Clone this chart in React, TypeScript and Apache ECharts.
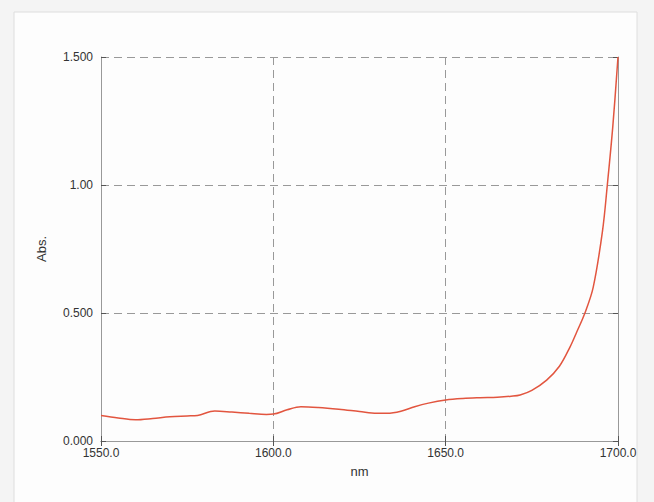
import React, { useEffect, useRef } from "react";
import * as echarts from "echarts";

const wavelengths = [
  1550, 1555, 1560, 1565, 1570, 1575, 1578, 1583, 1588, 1593, 1598, 1600,
  1604, 1608, 1613, 1619, 1625, 1630, 1633, 1637, 1641, 1645, 1650, 1655,
  1660, 1665, 1669, 1671.6, 1675, 1679.3, 1683, 1686.1, 1688, 1690.4,
  1692.8, 1695.5, 1696.9, 1698.5, 1700,
];
const absorbance = [
  0.1, 0.09, 0.083, 0.088, 0.095, 0.098, 0.1, 0.117, 0.113, 0.108, 0.104, 0.105,
  0.122, 0.134, 0.131, 0.124, 0.115, 0.108, 0.108, 0.116, 0.134, 0.148, 0.16, 0.166,
  0.169, 0.171, 0.175, 0.18, 0.198, 0.238, 0.292, 0.368, 0.425, 0.5,
  0.6, 0.82, 1.0, 1.23, 1.5,
];
const yTickLabels: Record<string, string> = {
  "0": "0.000",
  "0.5": "0.500",
  "1": "1.00",
  "1.5": "1.500",
};

export default function App() {
  const ref = useRef<HTMLDivElement>(null);
  useEffect(() => {
    if (!ref.current) return;
    const chart = echarts.init(ref.current, undefined, { renderer: "svg" });
    const font = "'Liberation Sans', Arial, sans-serif";
    const tickStyle = { show: true, inside: true, length: 5, lineStyle: { color: "#555", width: 1 } };
    chart.setOption({
      animation: false,
      backgroundColor: "#f4f4f4",
      graphic: [
        {
          type: "rect",
          shape: { x: 14, y: 12, width: 623, height: 520 },
          style: { fill: "#fdfdfd", stroke: "#dedede", lineWidth: 1 },
          z: -10,
          silent: true,
        },
      ],
      grid: { left: 101, right: 36, top: 57, bottom: 61, show: false },
      xAxis: [
        {
          type: "value",
          min: 1550,
          max: 1700,
          interval: 50,
          name: "nm",
          nameLocation: "middle",
          nameGap: 24,
          nameTextStyle: { fontFamily: font, fontSize: 13, color: "#333" },
          axisLine: { show: true, lineStyle: { color: "#999", width: 1 } },
          axisTick: tickStyle,
          axisLabel: {
            fontFamily: font,
            fontSize: 12,
            color: "#333",
            margin: 6,
            formatter: (v: number) => v.toFixed(1),
          },
          splitLine: { show: true, lineStyle: { color: "#999", type: [8, 5], width: 1 } },
        },
        {
          type: "value",
          position: "top",
          min: 1550,
          max: 1700,
          interval: 50,
          axisLine: { show: true, lineStyle: { color: "#999", width: 1 } },
          axisTick: tickStyle,
          axisLabel: { show: false },
          splitLine: { show: false },
        },
      ],
      yAxis: [
        {
          type: "value",
          min: 0,
          max: 1.5,
          interval: 0.5,
          name: "Abs.",
          nameLocation: "middle",
          nameGap: 53,
          nameTextStyle: { fontFamily: font, fontSize: 13, color: "#333" },
          axisLine: { show: true, lineStyle: { color: "#999", width: 1 } },
          axisTick: tickStyle,
          axisLabel: {
            fontFamily: font,
            fontSize: 12,
            color: "#333",
            margin: 8,
            formatter: (v: number) => yTickLabels[String(v)] ?? String(v),
          },
          splitLine: { show: true, lineStyle: { color: "#999", type: [8, 5], width: 1 } },
        },
        {
          type: "value",
          position: "right",
          min: 0,
          max: 1.5,
          interval: 0.5,
          axisLine: { show: true, lineStyle: { color: "#999", width: 1 } },
          axisTick: tickStyle,
          axisLabel: { show: false },
          splitLine: { show: false },
        },
      ],
      series: [
        {
          type: "line",
          data: wavelengths.map((w, i) => [w, absorbance[i]]),
          smooth: 0.35,
          showSymbol: false,
          lineStyle: { color: "#e2553f", width: 1.5 },
          z: 5,
        },
      ],
    });
    return () => chart.dispose();
  }, []);
  return <div ref={ref} style={{ width: 654, height: 502, position: "absolute", left: 0, top: 0 }} />;
}
